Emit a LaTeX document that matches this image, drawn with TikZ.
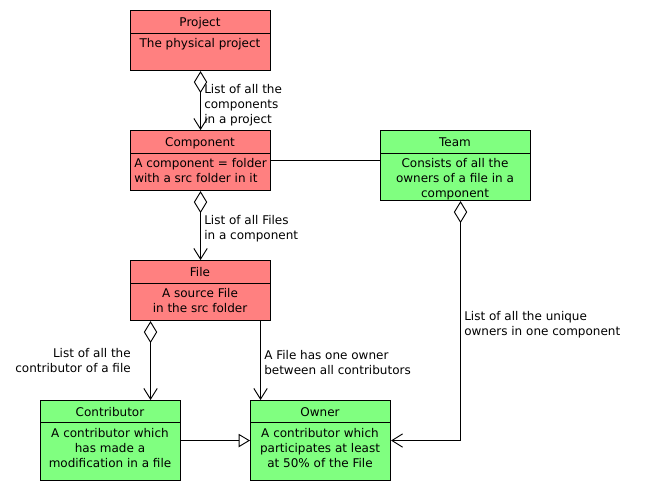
\documentclass[tikz,border=0pt]{standalone}
\usepackage{fontspec}
\setmainfont{DejaVu Sans}
\usetikzlibrary{arrows.meta,calc}
\definecolor{clsred}{HTML}{FF8080}
\definecolor{clsgreen}{HTML}{80FF80}
\tikzset{
  cls/.style={draw=black, line width=0.8pt, anchor=north west, inner sep=0pt},
  sep/.style={line width=0.75pt},
  ttl/.style={anchor=base, inner sep=0pt, font=\fontsize{9pt}{11.25pt}\selectfont},
  bdy/.style={anchor=north, inner sep=0pt, align=center, font=\fontsize{9pt}{11.25pt}\selectfont},
  bdyl/.style={anchor=north west, inner sep=0pt, align=left, font=\fontsize{9pt}{11.25pt}\selectfont},
  lbl/.style={anchor=north west, inner sep=0pt, align=left, font=\fontsize{9pt}{11.25pt}\selectfont},
  lblr/.style={anchor=north east, inner sep=0pt, align=right, font=\fontsize{9pt}{11.25pt}\selectfont},
  conn/.style={draw=black, line width=0.7pt},
  agg/.style={conn, {Diamond[open, length=16.5pt, width=10pt]}-{Straight Barb[length=8pt, width=10pt]}},
  assoc/.style={conn, -{Straight Barb[length=8pt, width=10pt]}},
  gen/.style={conn, -{Triangle[open, length=8.5pt, width=10pt]}},
}
\begin{document}
\begin{tikzpicture}[x=0.75pt, y=-0.75pt]
\useasboundingbox (0,0) rectangle (650,490);
% Project
\node[cls, fill=clsred, minimum width=105pt, minimum height=45pt] (project) at (130,10) {};
\draw[sep] ([yshift=-17.25pt]project.north west) -- ([yshift=-17.25pt]project.north east);
\node[ttl] (project-t) at (200,26.4) {Project};
\node[bdy] (project-b) at (200,38.4) {The physical project};
% Component
\node[cls, fill=clsred, minimum width=105pt, minimum height=45pt] (component) at (130,130) {};
\draw[sep] ([yshift=-17.25pt]component.north west) -- ([yshift=-17.25pt]component.north east);
\node[ttl] (component-t) at (200,146.4) {Component};
\node[bdyl] (component-b) at (134,158.4) {A component = folder\\with a src folder in it};
% Team
\node[cls, fill=clsgreen, minimum width=112.5pt, minimum height=52.5pt] (team) at (380,130) {};
\draw[sep] ([yshift=-17.25pt]team.north west) -- ([yshift=-17.25pt]team.north east);
\node[ttl] (team-t) at (455,146.4) {Team};
\node[bdy] (team-b) at (455,158.4) {Consists of all the\\owners of a file in a\\component};
% File
\node[cls, fill=clsred, minimum width=105pt, minimum height=45pt] (file) at (130,260) {};
\draw[sep] ([yshift=-17.25pt]file.north west) -- ([yshift=-17.25pt]file.north east);
\node[ttl] (file-t) at (200,276.4) {File};
\node[bdy] (file-b) at (200,288.4) {A source File\\in the src folder};
% Contributor
\node[cls, fill=clsgreen, minimum width=105pt, minimum height=60pt] (contributor) at (40,400) {};
\draw[sep] ([yshift=-16.5pt]contributor.north west) -- ([yshift=-16.5pt]contributor.north east);
\node[ttl] (contributor-t) at (110,416.4) {Contributor};
\node[bdy] (contributor-b) at (110,428.1) {A contributor which\\has made a\\modification in a file};
% Owner
\node[cls, fill=clsgreen, minimum width=105pt, minimum height=60pt] (owner) at (250,400) {};
\draw[sep] ([yshift=-16.5pt]owner.north west) -- ([yshift=-16.5pt]owner.north east);
\node[ttl] (owner-t) at (320,416.4) {Owner};
\node[bdy] (owner-b) at (320,428.1) {A contributor which\\participates at least\\at 50\% of the File};
% Connectors
\draw[agg] (project.south) -- (component.north);
\node[lbl] (l1) at (204,84.4) {List of all the\\components\\in a project};
\draw[agg] (component.south) -- (file.north);
\node[lbl] (l2) at (204,215.4) {List of all Files\\in a component};
\draw[conn] (component.east) -- (component.east -| team.west);
\draw[agg] ([xshift=3.75pt]team.south) |- (owner.east);
\node[lbl] (l3) at (464,311.4) {List of all the unique\\owners in one component};
\draw[agg] ([xshift=-37.5pt]file.south) -- ([xshift=-37.5pt]file.south |- contributor.north);
\node[lblr] (l4) at (131,348.4) {List of all the\\contributor of a file};
\draw[assoc] ([xshift=45pt]file.south) -- ([xshift=45pt]file.south |- owner.north);
\node[lbl] (l5) at (264,350.4) {A File has one owner\\between all contributors};
\draw[gen] (contributor.east) -- (owner.west);
\end{tikzpicture}
\end{document}
